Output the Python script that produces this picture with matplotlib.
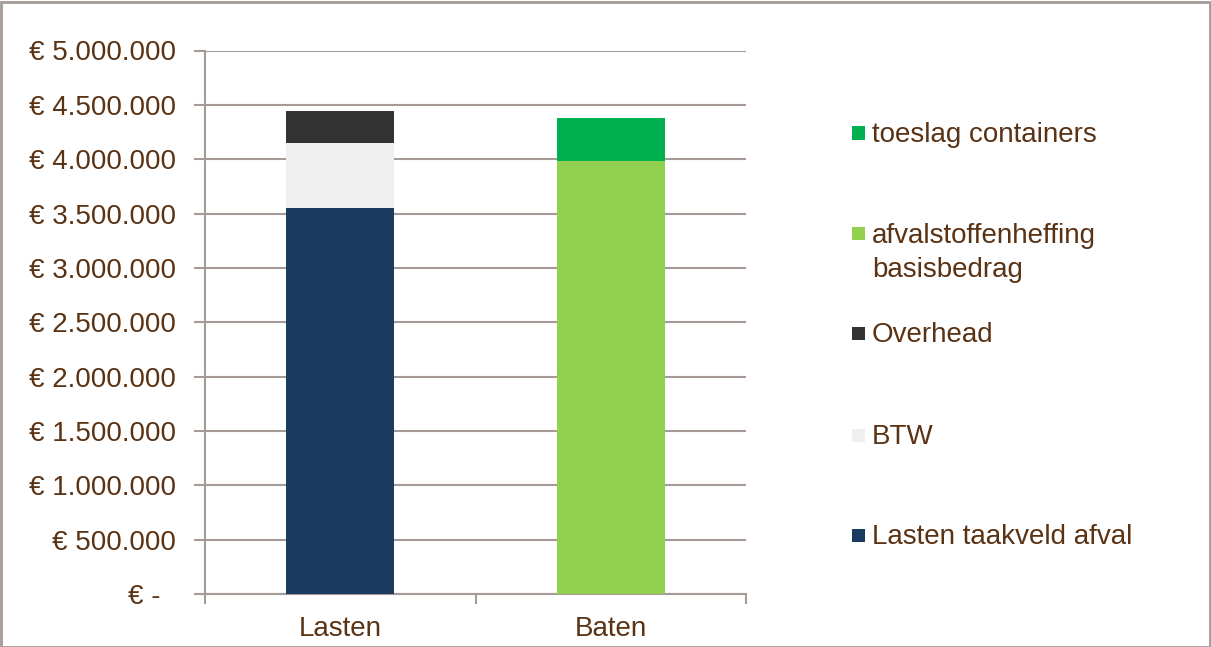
import matplotlib
matplotlib.use("Agg")
import matplotlib.pyplot as plt
from matplotlib.ticker import FuncFormatter, FixedLocator
from matplotlib.patches import Rectangle

plt.rcParams['font.family'] = ['Liberation Sans', 'DejaVu Sans']

categories = ["Lasten", "Baten"]
series_names = ["Lasten taakveld afval", "BTW", "Overhead",
                "afvalstoffenheffing\nbasisbedrag", "toeslag containers"]
lasten_taakveld = [3547000, 0]
btw = [606000, 0]
overhead = [286000, 0]
basisbedrag = [0, 3987000]
toeslag = [0, 390000]
series_values = [lasten_taakveld, btw, overhead, basisbedrag, toeslag]
series_colors = ["#1b3a5f", "#efefef", "#333333", "#92d050", "#00b050"]
y_ticks = [0, 500000, 1000000, 1500000, 2000000, 2500000, 3000000,
           3500000, 4000000, 4500000, 5000000]

text_color = "#5a3214"
grid_color = "#a59a96"
FS = 20
W, H = 1211, 647

fig = plt.figure(figsize=(W / 100, H / 100), dpi=100)
ax = fig.add_axes([205 / W, 1 - 594 / H, 541 / W, (594 - 50.5) / H])

x = [0.5, 1.5]
bottoms = [0, 0]
for vals, col, name in zip(series_values, series_colors, series_names):
    ax.bar(x, vals, width=0.4, bottom=bottoms, color=col, label=name, zorder=3)
    bottoms = [b + v for b, v in zip(bottoms, vals)]

ax.set_xlim(0, 2)
ax.set_ylim(0, 5000000)

def fmt(v, pos):
    if v == 0:
        return "€ -  "
    return "€ " + f"{v:,.0f}".replace(",", ".")

ax.yaxis.set_major_locator(FixedLocator(y_ticks))
ax.yaxis.set_major_formatter(FuncFormatter(fmt))
ax.grid(axis='y', color=grid_color, linewidth=1.5, zorder=0)

ax.set_xticks([0, 1, 2])
ax.set_xticklabels([])
ax.set_xticks(x, minor=True)
ax.set_xticklabels(categories, minor=True)
ax.tick_params(axis='x', which='major', direction='out', length=7, width=1.5,
               color=grid_color)
ax.tick_params(axis='x', which='minor', length=0, pad=16, labelsize=FS,
               labelcolor=text_color)
ax.tick_params(axis='y', direction='out', length=8, width=1.5, color=grid_color,
               pad=13, labelsize=FS, labelcolor=text_color)

for s in ['top', 'right']:
    ax.spines[s].set_visible(False)
for s in ['left', 'bottom']:
    ax.spines[s].set_color(grid_color)
    ax.spines[s].set_linewidth(1.5)

# legend at the right (top to bottom: reversed series order)
legend_rows = [(133, 4), (234, 3), (333, 2), (435, 1), (535, 0)]
sq = 13
for yc, idx in legend_rows:
    fig.patches.append(Rectangle((852 / W, 1 - (yc + sq / 2) / H), sq / W, sq / H,
                                 transform=fig.transFigure,
                                 facecolor=series_colors[idx], edgecolor='none'))
    lines = series_names[idx].split('\n')
    for k, line in enumerate(lines):
        fig.text(872 / W, 1 - (yc + 2 + 34 * k) / H, line, color=text_color,
                 fontsize=FS, va='center', ha='left')

# outer chart border
fig.patches.append(Rectangle((0.5 / W, 0.5 / H), (W - 2) / W, (H - 2) / H,
                             transform=fig.transFigure, facecolor='none',
                             edgecolor=grid_color, linewidth=2))

fig.savefig("out.png", dpi=100)
